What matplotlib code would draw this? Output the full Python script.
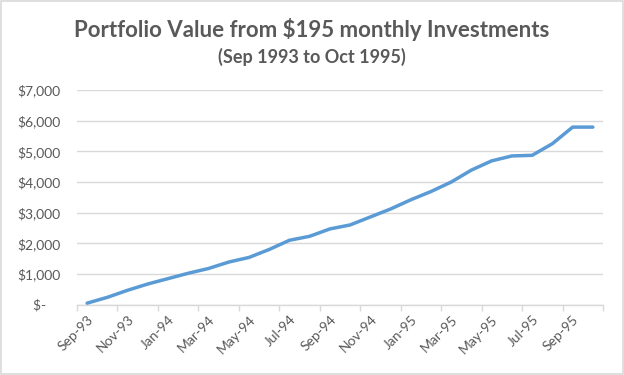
import matplotlib
matplotlib.use("Agg")
import matplotlib.pyplot as plt
from matplotlib.patches import Rectangle
from matplotlib.ticker import FixedLocator, FuncFormatter

# Monthly portfolio values, Sep-93 .. Oct-95
months = ["Sep-93", "Oct-93", "Nov-93", "Dec-93", "Jan-94", "Feb-94", "Mar-94",
          "Apr-94", "May-94", "Jun-94", "Jul-94", "Aug-94", "Sep-94", "Oct-94",
          "Nov-94", "Dec-94", "Jan-95", "Feb-95", "Mar-95", "Apr-95", "May-95",
          "Jun-95", "Jul-95", "Aug-95", "Sep-95", "Oct-95"]
values = [50, 240, 470, 675, 850, 1025, 1180, 1390, 1540, 1800, 2100, 2230,
          2470, 2600, 2860, 3120, 3420, 3690, 4000, 4390, 4690, 4850, 4870,
          5250, 5790, 5790]
y_ticks = [0, 1000, 2000, 3000, 4000, 5000, 6000, 7000]

TEXT = "#595959"
GRID = "#d9d9d9"
LINE = "#5b9bd5"
FONT = ["Lato", "DejaVu Sans"]

plt.rcParams["font.family"] = FONT

fig = plt.figure(figsize=(6.24, 3.75), dpi=100)
fig.patch.set_facecolor("white")
fig.patches.append(Rectangle((0.002, 0.003), 0.996, 0.994, transform=fig.transFigure,
                             fill=False, edgecolor=GRID, linewidth=1.2))

ax = fig.add_axes([0.1234, 0.1875, 0.8429, 0.5725])
x = list(range(len(months)))
ax.plot(x, values, color=LINE, linewidth=2.5, solid_joinstyle="round",
        solid_capstyle="round", zorder=3)

ax.set_xlim(-0.5, len(months) - 0.5)
ax.set_ylim(0, 7000)

def money(v, pos):
    if v == 0:
        return "$-    "
    return "${:,.0f}".format(v)

ax.yaxis.set_major_locator(FixedLocator(y_ticks))
ax.yaxis.set_major_formatter(FuncFormatter(money))
ax.tick_params(axis="y", length=0, pad=12, labelsize=10, labelcolor=TEXT)
ax.grid(axis="y", color=GRID, linewidth=1)
ax.set_axisbelow(True)

# boundary ticks every two months, labels on every other month
ax.xaxis.set_major_locator(FixedLocator([i - 0.5 for i in range(0, len(months) + 1, 2)]))
ax.xaxis.set_major_formatter(FuncFormatter(lambda v, p: ""))
ax.xaxis.set_minor_locator(FixedLocator(list(range(0, len(months), 2))))
ax.set_xticklabels([months[i] for i in range(0, len(months), 2)], minor=True)
ax.tick_params(axis="x", which="major", length=4, color=GRID, width=1)
ax.tick_params(axis="x", which="minor", length=0, pad=6, labelsize=10, labelcolor=TEXT)
for lab in ax.get_xticklabels(minor=True):
    lab.set_rotation(45)
    lab.set_ha("right")
    lab.set_rotation_mode("anchor")

for s in ["top", "right", "left"]:
    ax.spines[s].set_visible(False)
ax.spines["bottom"].set_color(GRID)
ax.spines["bottom"].set_linewidth(1)

fig.text(0.5, 0.921, "Portfolio Value from $195 monthly Investments", ha="center",
         va="center", fontsize=16, fontweight="bold", color=TEXT)
fig.text(0.5, 0.848, "(Sep 1993 to Oct 1995)", ha="center", va="center",
         fontsize=13, fontweight="bold", color=TEXT)

fig.savefig("out.png", dpi=100)
